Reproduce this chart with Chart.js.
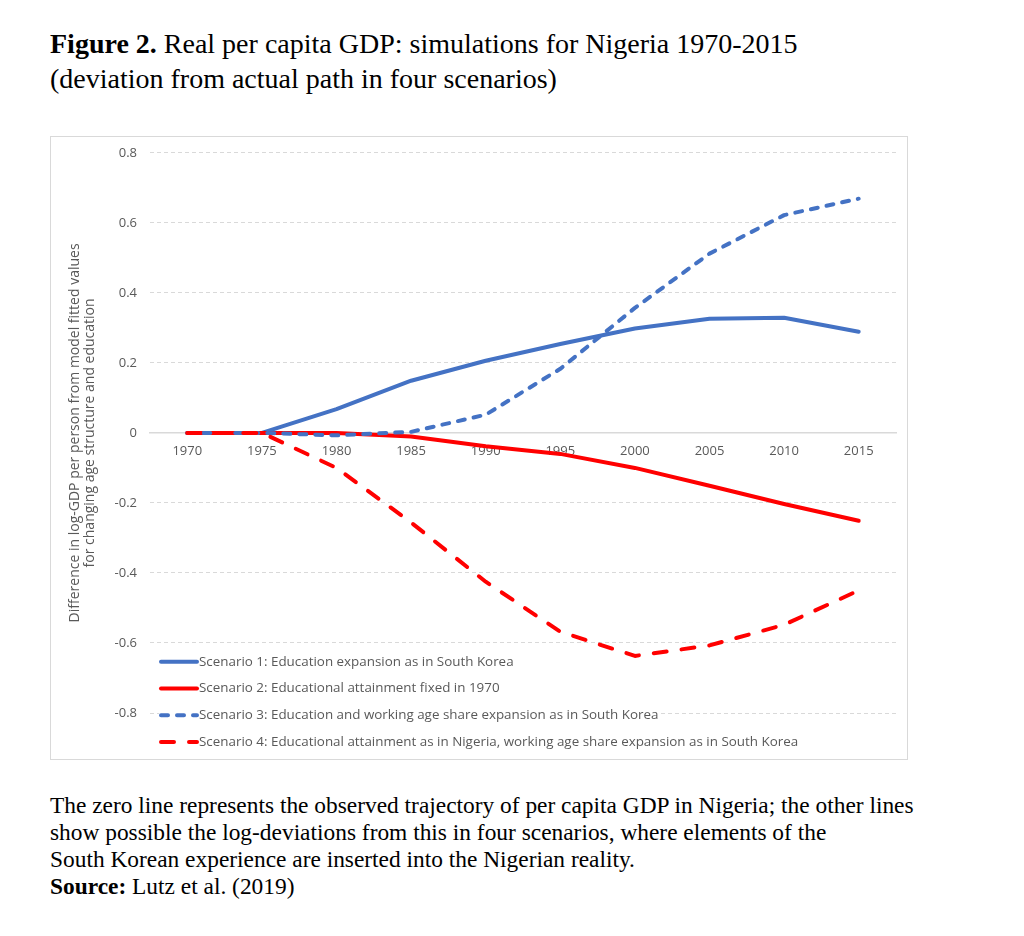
<!DOCTYPE html>
<html>
<head>
<meta charset="utf-8">
<script src="https://cdn.jsdelivr.net/npm/chart.js@4.4.1/dist/chart.umd.min.js"></script>
<style>
    body { margin: 0; background: #fff; width: 1024px; height: 936px; position: relative; overflow: hidden; }
    .fig-title { position: absolute; left: 50px; top: 26px; font-family: "Liberation Serif", serif; font-size: 28px; line-height: 35px; color: #000; }
    .chart-box { position: absolute; left: 50px; top: 136px; width: 858px; height: 624px; border: 1px solid #d9d9d9; box-sizing: border-box; }
    .chart-box canvas { position: absolute; left: 0; top: -5px; }
    .caption { position: absolute; left: 50px; top: 792px; font-family: "Liberation Serif", serif; font-size: 23.4px; line-height: 27px; color: #000; }
</style>
</head>
<body>
<div class="fig-title"><b>Figure 2.</b> Real per capita GDP: simulations for Nigeria 1970-2015<br>(deviation from actual path in four scenarios)</div>
<div class="chart-box"><canvas id="gdpChart" width="856" height="627"></canvas></div>
<div class="caption">The zero line represents the observed trajectory of per capita GDP in Nigeria; the other lines<br>show possible the log-deviations from this in four scenarios, where elements of the<br>South Korean experience are inserted into the Nigerian reality.<br><b>Source:</b> Lutz et al. (2019)</div>

<script>
// 年份（x轴类别）
const years = ['1970', '1975', '1980', '1985', '1990', '1995', '2000', '2005', '2010', '2015'];

// 四种情景的对数偏差
const scenario1 = [0, 0, 0.068, 0.149, 0.206, 0.254, 0.298, 0.326, 0.329, 0.289];
const scenario2 = [0, 0, 0, -0.01, -0.038, -0.06, -0.1, -0.151, -0.203, -0.251];
const scenario3 = [0, 0, -0.007, 0.003, 0.052, 0.183, 0.357, 0.512, 0.622, 0.669];
const scenario4 = [0, 0, -0.1, -0.256, -0.425, -0.568, -0.637, -0.607, -0.548, -0.45];

const seriesNames = [
    'Scenario 1: Education expansion as in South Korea',
    'Scenario 2: Educational attainment fixed in 1970',
    'Scenario 3: Education and working age share expansion as in South Korea',
    'Scenario 4: Educational attainment as in Nigeria, working age share expansion as in South Korea'
];

// y轴刻度
const yMin = -0.8;
const yMax = 0.8;
const yStep = 0.2;

const yTitle = [
    'Difference in log-GDP per person from model fitted values',
    'for changing age structure and education'
];

const BLUE = '#4472c4';
const RED = '#ff0000';
const TEXT_GREY = '#595959';
const uiFont = '"Open Sans", "Noto Sans", sans-serif';

// 图表内部的图例（盖在网格线上）
const insideLegend = {
    id: 'insideLegend',
    afterDraw(chart, args, opts) {
        const ctx = chart.ctx;
        const area = chart.chartArea;
        const x0 = area.left + opts.offsetX;
        const y0 = area.top + opts.offsetY;

        ctx.save();
        ctx.font = opts.font;
        ctx.textBaseline = 'middle';
        chart.data.datasets.forEach((ds, i) => {
            const y = y0 + i * opts.rowHeight;
            const textX = x0 + opts.sampleWidth + 2;
            const w = ctx.measureText(ds.label).width;

            ctx.fillStyle = '#fff';
            ctx.fillRect(x0 - 2, y - 9, opts.sampleWidth + 6 + w, 18);

            ctx.strokeStyle = ds.borderColor;
            ctx.lineWidth = ds.borderWidth;
            ctx.lineCap = 'round';
            ctx.setLineDash(ds.borderDash || []);
            ctx.beginPath();
            ctx.moveTo(x0, y);
            ctx.lineTo(x0 + opts.sampleWidth, y);
            ctx.stroke();
            ctx.setLineDash([]);

            ctx.fillStyle = opts.color;
            ctx.fillText(ds.label, textX, y);
        });
        ctx.restore();
    }
};

function makeSeries(label, data, color, dash, order) {
    return {
        label: label,
        data: data,
        borderColor: color,
        backgroundColor: color,
        borderWidth: 4,
        borderDash: dash,
        borderCapStyle: 'round',
        borderJoinStyle: 'round',
        pointRadius: 0,
        pointHoverRadius: 0,
        tension: 0,
        fill: false,
        order: order
    };
}

const ctx = document.getElementById('gdpChart');

new Chart(ctx, {
    type: 'line',
    data: {
        labels: years,
        datasets: [
            makeSeries(seriesNames[0], scenario1, BLUE, [], 4),
            makeSeries(seriesNames[1], scenario2, RED, [], 3),
            makeSeries(seriesNames[2], scenario3, BLUE, [7, 9], 2),
            makeSeries(seriesNames[3], scenario4, RED, [13, 15], 1)
        ]
    },
    options: {
        responsive: false,
        animation: false,
        layout: {
            padding: { left: 16, right: 11, top: 10, bottom: 46 }
        },
        plugins: {
            legend: { display: false },
            title: { display: false },
            tooltip: { enabled: false },
            insideLegend: {
                offsetX: 11,
                offsetY: 509,
                rowHeight: 26.7,
                sampleWidth: 36,
                font: '13.4px ' + uiFont,
                color: TEXT_GREY
            }
        },
        scales: {
            x: {
                type: 'category',
                offset: true,
                position: { y: 0 },
                afterFit: (scale) => { scale.height = 0; },
                grid: { display: false, drawTicks: false },
                border: { display: true, color: '#d9d9d9', width: 1.5 },
                ticks: {
                    color: TEXT_GREY,
                    padding: 11,
                    maxRotation: 0,
                    font: { family: uiFont, size: 13 }
                }
            },
            y: {
                min: yMin,
                max: yMax,
                afterFit: (scale) => { scale.width = 83; },
                grid: { color: '#d9d9d9', lineWidth: 1, drawTicks: false },
                border: { display: false, dash: [4, 3] },
                ticks: {
                    stepSize: yStep,
                    color: TEXT_GREY,
                    padding: 13,
                    font: { family: uiFont, size: 13 },
                    callback: (v) => {
                        const r = Math.round(v * 10) / 10;
                        return r === 0 ? '0' : r.toFixed(1);
                    }
                },
                title: {
                    display: true,
                    text: yTitle,
                    color: TEXT_GREY,
                    padding: 0,
                    font: { family: uiFont, size: 14, lineHeight: 1.08 }
                }
            }
        }
    },
    plugins: [insideLegend]
});
</script>
</body>
</html>
